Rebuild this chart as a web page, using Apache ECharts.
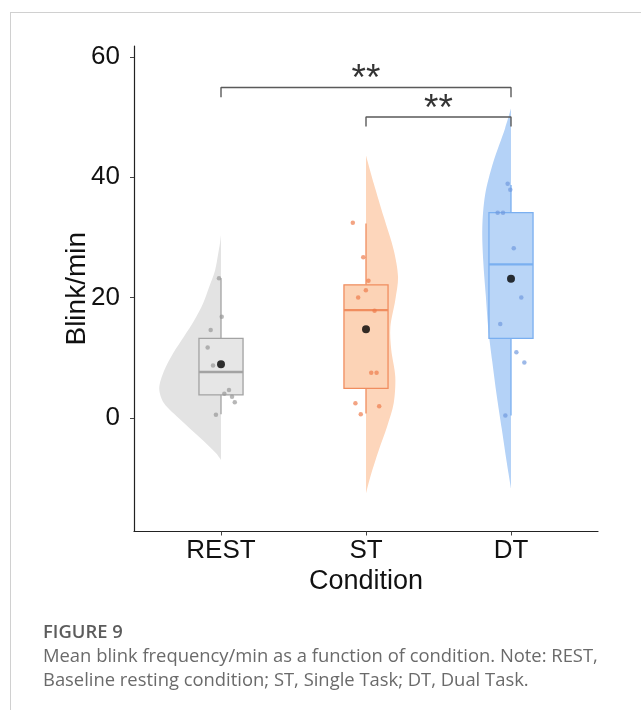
<!DOCTYPE html>
<html><head><meta charset="utf-8">
<script src="https://cdn.jsdelivr.net/npm/echarts@6/dist/echarts.min.js"></script>
<style>
html,body{margin:0;padding:0;background:#fff;width:641px;height:710px;overflow:hidden;}
#frame{position:absolute;left:10px;top:12px;right:0;bottom:0;border-left:1.5px solid #d0d0d0;border-top:1.5px solid #d0d0d0;}
#chart{position:absolute;left:0;top:0;width:641px;height:710px;}
.cap{position:absolute;left:43px;font-family:'Open Sans',sans-serif;color:#6a6a6a;font-size:18.4px;line-height:24px;white-space:nowrap;}
</style></head><body>
<div id="frame"></div>
<div id="chart"></div>
<div class="cap" style="top:619px;font-weight:600;color:#5c5c5c;">FIGURE 9</div>
<div class="cap" style="top:643px;">Mean blink frequency/min as a function of condition. Note: REST,</div>
<div class="cap" style="top:667px;">Baseline resting condition; ST, Single Task; DT, Dual Task.</div>
<script>
// ---- data ----
const categories = ['REST', 'ST', 'DT'];
const yTicks = [0, 20, 40, 60];
const yTitle = 'Blink/min';
const xTitle = 'Condition';

const restPoints = [23.2, 16.8, 14.6, 11.7, 8.7, 4.6, 4.0, 3.5, 2.6, 0.5];
const restJitter = [-0.014, 0.005, -0.071, -0.092, -0.055, 0.055, 0.023, 0.076, 0.095, -0.035];
const stPoints = [32.4, 26.7, 22.8, 21.2, 20.0, 17.8, 7.5, 7.5, 2.4, 1.9, 0.6];
const stJitter = [-0.091, -0.019, 0.017, -0.001, -0.054, 0.059, 0.036, 0.073, -0.073, 0.091, -0.036];
const dtPoints = [38.9, 37.9, 34.1, 34.1, 28.2, 20.0, 15.6, 10.9, 9.2, 0.4];
const dtJitter = [-0.023, -0.005, -0.092, -0.055, 0.019, 0.071, -0.074, 0.037, 0.092, -0.039];

// [lower whisker, Q1, median, Q3, upper whisker]
const restBox = [0.6, 3.8, 7.6, 13.2, 23.2];
const stBox = [0.7, 4.9, 17.9, 22.1, 32.3];
const dtBox = [0.4, 13.2, 25.5, 34.1, 38.7];
const means = [8.9, 14.7, 23.1];

// half-violin outlines: value levels and half-widths (x units)
const restViolinY = [30.4, 29.0, 27.3, 24.5, 21.8, 19.0, 16.2, 13.5, 10.7, 7.9, 4.9, 2.4, -0.4, -3.2, -5.9, -7.0];
const restViolinW = [0, 0.007, 0.019, 0.041, 0.081, 0.124, 0.184, 0.255, 0.331, 0.391, 0.426, 0.393, 0.276, 0.150, 0.034, 0];
const stViolinY = [43.6, 39.0, 33.4, 27.9, 23.4, 19.6, 15.1, 11.3, 6.8, 2.4, -1.5, -5.4, -9.8, -12.6];
const stViolinW = [0, 0.053, 0.122, 0.191, 0.221, 0.202, 0.168, 0.174, 0.202, 0.191, 0.145, 0.088, 0.030, 0];
const dtViolinY = [51.4, 48.1, 42.5, 37.0, 31.5, 25.9, 20.4, 14.9, 9.3, 3.8, -1.8, -7.3, -11.7];
const dtViolinW = [0, 0.041, 0.122, 0.179, 0.198, 0.191, 0.174, 0.157, 0.129, 0.099, 0.064, 0.030, 0];

// significance brackets
const sigFrom = [1, 2];
const sigTo = [3, 3];
const sigHeights = [54.9, 50.0];
const sigLabels = ['**', '**'];

// ---- styles ----
const FONT = 'Liberation Sans, Arial, sans-serif';
const palette = [
  {violin: '#e3e3e3', box: '#e6e6e6', line: '#a3a3a3', point: 'rgba(150,150,150,0.85)'},
  {violin: '#fdd6bb', box: '#fcd3b6', line: '#f08d5f', point: 'rgba(238,122,74,0.85)'},
  {violin: '#b4d2f7', box: '#b9d5f7', line: '#7aaff0', point: 'rgba(112,152,222,0.85)'}
];
const violinSide = [-1, 1, -1];
const BOX_HW = 0.152;
const TICK_DROP = 1.6;

const groups = [
  {pts: restPoints, jit: restJitter, box: restBox, vy: restViolinY, vw: restViolinW},
  {pts: stPoints, jit: stJitter, box: stBox, vy: stViolinY, vw: stViolinW},
  {pts: dtPoints, jit: dtJitter, box: dtBox, vy: dtViolinY, vw: dtViolinW}
];

const series = [];

groups.forEach((g, i) => {
  const cx = i + 1;
  series.push({
    type: 'custom', silent: true, z: 1,
    data: [[cx, g.vy[0]]],
    renderItem: function (params, api) {
      const pts = g.vy.map((y, k) => api.coord([cx + violinSide[i] * g.vw[k], y]));
      return {type: 'polyline', shape: {points: pts, smooth: 0.3}, style: {fill: palette[i].violin, stroke: null}};
    }
  });
});

series.push({
  type: 'custom', silent: true, z: 3,
  data: groups.map((g, i) => [i + 1].concat(g.box)),
  renderItem: function (params, api) {
    const x = api.value(0);
    const lo = api.value(1), q1 = api.value(2), med = api.value(3), q3 = api.value(4), hi = api.value(5);
    const c = palette[params.dataIndex];
    const tl = api.coord([x - BOX_HW, q3]), br = api.coord([x + BOX_HW, q1]);
    const pHi = api.coord([x, hi]), pQ3 = api.coord([x, q3]), pQ1 = api.coord([x, q1]), pLo = api.coord([x, lo]);
    const ml = api.coord([x - BOX_HW, med]), mr = api.coord([x + BOX_HW, med]);
    const ls = {stroke: c.line, lineWidth: 1.3};
    return {type: 'group', children: [
      {type: 'line', shape: {x1: pHi[0], y1: pHi[1], x2: pQ3[0], y2: pQ3[1]}, style: ls},
      {type: 'line', shape: {x1: pQ1[0], y1: pQ1[1], x2: pLo[0], y2: pLo[1]}, style: ls},
      {type: 'rect', shape: {x: tl[0], y: tl[1], width: br[0] - tl[0], height: br[1] - tl[1]}, style: {fill: c.box, stroke: c.line, lineWidth: 1.3}},
      {type: 'line', shape: {x1: ml[0], y1: ml[1], x2: mr[0], y2: mr[1]}, style: {stroke: c.line, lineWidth: 2.4}}
    ]};
  }
});

groups.forEach((g, i) => {
  series.push({
    type: 'scatter', silent: true, z: 4, symbolSize: 4.5,
    itemStyle: {color: palette[i].point},
    data: g.pts.map((v, k) => [i + 1 + g.jit[k], v])
  });
});

series.push({
  type: 'scatter', silent: true, z: 5, symbolSize: 8,
  itemStyle: {color: '#000'},
  data: means.map((m, i) => [i + 1, m])
});

sigFrom.forEach((a, k) => {
  const b = sigTo[k], h = sigHeights[k];
  series.push({
    type: 'line', silent: true, z: 6, symbol: 'none',
    lineStyle: {color: '#5a5a5a', width: 1.4},
    data: [[a, h - TICK_DROP], [a, h], [b, h], [b, h - TICK_DROP]]
  });
  series.push({
    type: 'scatter', silent: true, z: 6, symbolSize: 0,
    data: [[(a + b) / 2, h]],
    label: {show: true, position: 'top', distance: -11, formatter: sigLabels[k], fontSize: 37, color: '#000', fontFamily: FONT}
  });
});

const GRID = {left: 134, right: 43, top: 46, bottom: 178.5};
const chart = echarts.init(document.getElementById('chart'), null, {renderer: 'canvas'});
chart.setOption({
  animation: false,
  backgroundColor: 'transparent',
  grid: GRID,
  graphic: [{
    type: 'text', x: 77, y: GRID.top + (710 - GRID.top - GRID.bottom) / 2, rotation: Math.PI / 2,
    style: {text: yTitle, fontSize: 28, fill: '#111', fontFamily: FONT, align: 'center', verticalAlign: 'middle'}
  }],
  xAxis: {
    type: 'value', min: 0.4, max: 3.6,
    splitLine: {show: false},
    axisLine: {onZero: false, lineStyle: {color: '#222', width: 1.2}},
    axisTick: {show: true, customValues: [1, 2, 3], length: 4, lineStyle: {color: '#444'}},
    axisLabel: {customValues: [1, 2, 3], formatter: v => categories[Math.round(v) - 1], fontSize: 26, color: '#111', margin: 6, fontFamily: FONT},
    name: xTitle, nameLocation: 'middle', nameGap: 34,
    nameTextStyle: {fontSize: 27, color: '#111', fontFamily: FONT}
  },
  yAxis: {
    type: 'value', min: -18.9, max: 61.8,
    splitLine: {show: false},
    axisLine: {show: true, onZero: false, lineStyle: {color: '#222', width: 1.2}},
    axisTick: {show: true, customValues: yTicks, length: 4, lineStyle: {color: '#444'}},
    axisLabel: {customValues: yTicks, fontSize: 26, color: '#111', margin: 14, fontFamily: FONT}
  },
  series: series
});
</script>
</body></html>
